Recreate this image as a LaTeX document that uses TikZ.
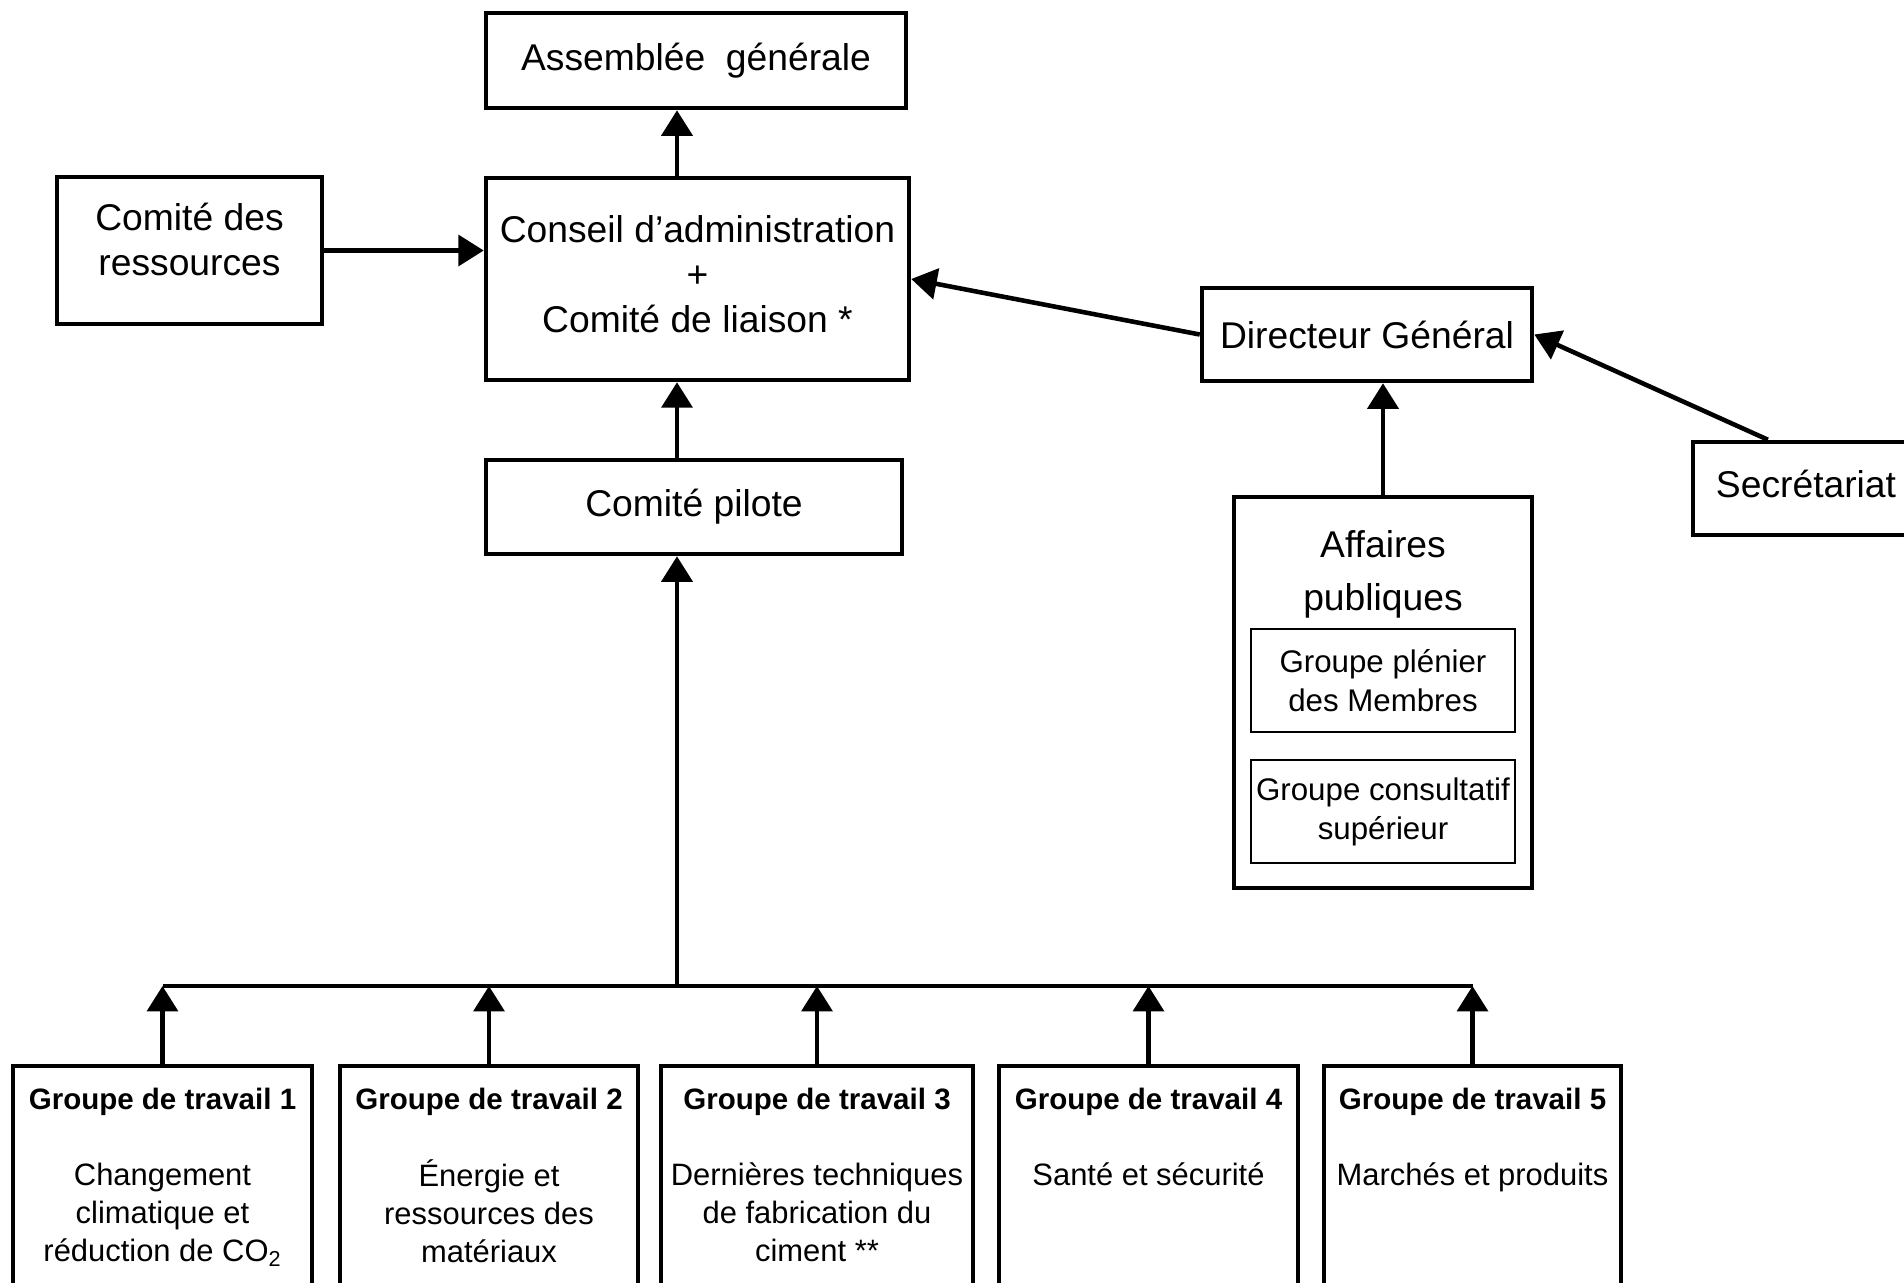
\documentclass[tikz,border=0pt]{standalone}
\usepackage{fontspec}
\setmainfont{Liberation Sans}
\usetikzlibrary{arrows.meta,positioning}

\begin{document}
\begin{tikzpicture}[x=0.02cm,y=-0.02cm,
	box/.style={draw,line width=2.6pt,inner sep=0pt,align=center,font=\fontsize{21.2}{25.6}\selectfont},
	subbox/.style={draw,line width=0.8pt,inner sep=0pt,minimum width=5.28cm,minimum height=2.06cm,align=center,font=\fontsize{17.8}{22.2}\selectfont},
	txt/.style={inner sep=0pt,align=center,font=\fontsize{21.2}{25.6}\selectfont},
	arr/.style={line width=2.6pt,-{Triangle[length=14.5pt,width=17.5pt]}}]
	\useasboundingbox (0,0) rectangle (1904,1282);

	%top boxes
	\node[box,minimum width=8.4cm,minimum height=1.9cm] (ag) at (696,60.5) {Assemblée\ \ générale};
	\node[box,minimum width=5.3cm,minimum height=2.94cm] (res) at (189.5,250.5) {};
	\node[txt] (res-txt) at (189.5,239.5) {Comité des\\ressources}; %text sits high
	\node[box,minimum width=8.46cm,minimum height=4.04cm] (conseil) at (697.5,279) {};
	\node[txt] (conseil-txt) at (697.5,274) {Conseil d’administration\\+\\Comité de liaison *};
	\node[box,minimum width=8.32cm,minimum height=1.88cm] (pilote) at (694,507) {Comité pilote};

	%right side
	\node[box,minimum width=6.6cm,minimum height=1.86cm] (dg) at (1367,334.5) {Directeur Général};
	\node[box,minimum width=4.52cm,minimum height=1.86cm] (sec) at (1806,488.5) {};
	\node[txt] (sec-txt) at (1806,484) {Secrétariat};
	\node[box,minimum width=5.96cm,minimum height=7.82cm] (affaires) at (1383,692.5) {};
	\node[txt,font=\fontsize{21.2}{30.2}\selectfont] (affaires-txt) at (1383,574.5) {Affaires\\publiques};
	\node[subbox] (plenier) at (1383,680.5) {Groupe plénier\\des Membres};
	\node[subbox] (consultatif) at (1383,811.5) {Groupe consultatif\\supérieur};

	%working groups
	\foreach \n/\x/\w/\desc in {1/162.5/5.98/{Changement\\climatique et\\réduction de CO\textsubscript{2}},
		2/489/5.96/{Énergie et\\ressources des\\matériaux},
		3/817/6.24/{Dernières techniques\\de fabrication du\\ciment **},
		4/1148.5/5.98/{Santé et sécurité},
		5/1472.5/5.94/{Marchés et produits}}{
		\node[box,minimum width=\w cm,minimum height=4.68cm] (gt\n) at (\x,1183) {};
		\node[txt,font=\bfseries\fontsize{16.8}{20}\selectfont] (gt\n-titre) at (\x,1102) {Groupe de travail \n};
		\node[txt,anchor=north,font=\fontsize{17.6}{21.6}\selectfont] (gt\n-desc) at (\x,1159) {\strut\desc};
	}

	%connectors
	\coordinate (spine) at (677,0);
	\coordinate (bus) at (677,986);
	\draw[line width=2.6pt] (gt1.north |- bus) -- (gt5.north |- bus); %bus line
	\foreach \n in {1,...,5}
		\draw[arr] (gt\n.north) -- (gt\n.north |- bus);
	\draw[arr] (bus) -- (spine |- pilote.south);
	\draw[arr] (spine |- pilote.north) -- (spine |- conseil.south);
	\draw[arr] (spine |- conseil.north) -- (spine |- ag.south);
	\draw[arr] (res.east) -- (res.east -| conseil.west);
	\draw[arr] (dg.west) -- (conseil.east);
	\draw[arr] (sec.128) -- (dg.east);
	\draw[arr] (affaires.north) -- (affaires.north |- dg.south);

\end{tikzpicture}
\end{document}
